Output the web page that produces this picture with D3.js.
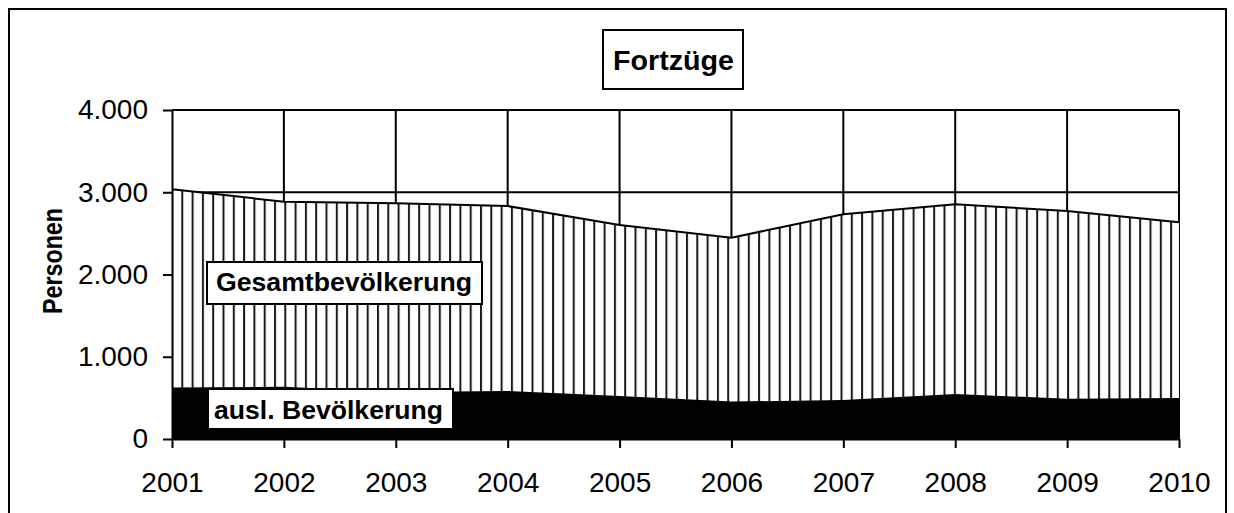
<!DOCTYPE html>
<html>
<head>
<meta charset="utf-8">
<script src="https://cdn.jsdelivr.net/npm/d3@7"></script>
<style>
  html, body { margin: 0; padding: 0; background: #fff; }
  svg { display: block; font-family: "Liberation Sans", Arial, sans-serif; }
</style>
</head>
<body>
<svg width="1234" height="513"></svg>
<script>
// data
const years = [2001, 2002, 2003, 2004, 2005, 2006, 2007, 2008, 2009, 2010];
const gesamt = [3036, 2885, 2865, 2832, 2602, 2448, 2732, 2853, 2772, 2634];
const ausl = [625, 636, 570, 584, 523, 455, 474, 547, 490, 498];
const yTicks = [0, 1000, 2000, 3000, 4000];
const title = "Fortzüge";
const yTitle = "Personen";
const gesamtLabel = "Gesamtbevölkerung";
const auslLabel = "ausl. Bevölkerung";

(function() {
    const svg = d3.select("svg");
    const plotLeft = 172, plotRight = 1179, plotTop = 110, plotBottom = 439;

    const de = d3.formatLocale({decimal: ",", thousands: ".", grouping: [3], currency: ["", " €"]});
    const fmt = de.format(",");

    const x = d3.scaleLinear().domain([years[0], years[years.length - 1]]).range([plotLeft, plotRight]);
    const y = d3.scaleLinear().domain([0, 4000]).range([plotBottom, plotTop]);

    const rows = years.map((yr, i) => ({year: yr, total: gesamt[i], foreign: ausl[i]}));

    // outer frame (bottom edge runs off the picture)
    svg.append("rect")
        .attr("x", 9).attr("y", 9).attr("width", 1217).attr("height", 530)
        .attr("fill", "#fff").attr("stroke", "#000").attr("stroke-width", 2);

    // vertical hatch pattern
    const defs = svg.append("defs");
    const pat = defs.append("pattern")
        .attr("id", "hatch")
        .attr("patternUnits", "userSpaceOnUse")
        .attr("x", plotLeft - 1).attr("y", 0)
        .attr("width", 10.3).attr("height", 10);
    pat.append("rect").attr("width", 10.3).attr("height", 10).attr("fill", "#fff");
    pat.append("line")
        .attr("x1", 1).attr("x2", 1).attr("y1", 0).attr("y2", 10)
        .attr("stroke", "#1a1a1a").attr("stroke-width", 2);

    // gridlines
    const grid = svg.append("g").attr("stroke", "#000").attr("stroke-width", 2);
    grid.selectAll(".h").data(yTicks.filter(d => d > 0)).join("line")
        .attr("x1", plotLeft).attr("x2", plotRight)
        .attr("y1", d => y(d)).attr("y2", d => y(d));
    grid.selectAll(".v").data(years.slice(1)).join("line")
        .attr("x1", d => x(d)).attr("x2", d => x(d))
        .attr("y1", plotTop).attr("y2", plotBottom);

    // Gesamtbevölkerung area
    const areaTotal = d3.area().x(d => x(d.year)).y0(y(0)).y1(d => y(d.total));
    svg.append("path").datum(rows)
        .attr("d", areaTotal)
        .attr("fill", "url(#hatch)");
    svg.append("path").datum(rows)
        .attr("d", d3.line().x(d => x(d.year)).y(d => y(d.total)))
        .attr("fill", "none").attr("stroke", "#000").attr("stroke-width", 2);

    // ausl. Bevölkerung area
    const areaForeign = d3.area().x(d => x(d.year)).y0(y(0)).y1(d => y(d.foreign));
    svg.append("path").datum(rows)
        .attr("d", areaForeign)
        .attr("fill", "#000");

    // axes
    const yAxis = d3.axisLeft(y).tickValues(yTicks).tickSize(9).tickSizeOuter(0).tickPadding(15).tickFormat(fmt);
    const xAxis = d3.axisBottom(x).tickValues(years).tickSize(9).tickSizeOuter(0).tickPadding(24).tickFormat(d3.format("d"));

    const gy = svg.append("g").attr("transform", `translate(${plotLeft},0)`).call(yAxis);
    const gx = svg.append("g").attr("transform", `translate(0,${plotBottom})`).call(xAxis);
    [gy, gx].forEach(g => {
        g.select(".domain").attr("stroke", "#000").attr("stroke-width", 2);
        g.selectAll(".tick line").attr("stroke", "#000").attr("stroke-width", 2);
        g.selectAll(".tick text")
            .attr("fill", "#000")
            .style("font-family", "'Liberation Sans', Arial, sans-serif")
            .style("font-size", "28px");
    });

    // y axis title
    svg.append("text")
        .attr("text-anchor", "middle")
        .attr("transform", "translate(62,261)rotate(-90)")
        .attr("textLength", 106).attr("lengthAdjust", "spacingAndGlyphs")
        .style("font-size", "28px").style("font-weight", "bold")
        .text(yTitle);

    // boxed labels
    function boxLabel(bx, by, bw, bh, tx, ty, size, len, txt) {
        const g = svg.append("g");
        g.append("rect")
            .attr("x", bx).attr("y", by).attr("width", bw).attr("height", bh)
            .attr("fill", "#fff").attr("stroke", "#000").attr("stroke-width", 2);
        const t = g.append("text")
            .attr("x", tx).attr("y", ty)
            .style("font-size", size + "px").style("font-weight", "bold")
            .text(txt);
        if (len) t.attr("textLength", len).attr("lengthAdjust", "spacingAndGlyphs");
    }

    boxLabel(603, 30, 140, 59, 613, 70, 28, 121, title);
    boxLabel(207, 262, 275, 42, 216, 291, 26, 256, gesamtLabel);
    boxLabel(208, 389, 245, 40, 214, 419, 26, 229, auslLabel);
})();
</script>
</body>
</html>
